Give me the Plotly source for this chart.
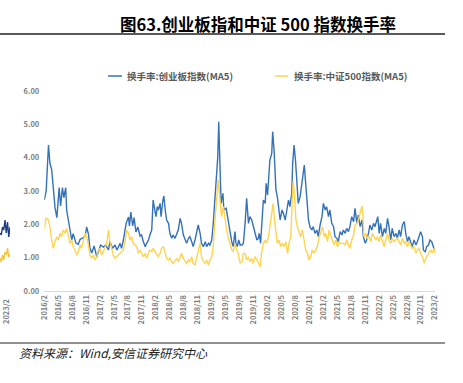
import plotly.graph_objects as go

tick_labels = ["2016/2", "2016/5", "2016/8", "2016/11", "2017/2", "2017/5", "2017/8", "2017/11",
               "2018/2", "2018/5", "2018/8", "2018/11", "2019/2", "2019/5", "2019/8", "2019/11",
               "2020/2", "2020/5", "2020/8", "2020/11", "2021/2", "2021/5", "2021/8", "2021/11",
               "2022/2", "2022/5", "2022/8", "2022/11", "2023/2"]
tick_months = [3 * i for i in range(len(tick_labels))]  # months since 2016/2

# 换手率:创业板指数(MA5)  (x = months since 2016/2)
gem_month = [0.0, 0.4, 0.9, 1.2, 1.6, 1.9, 2.3, 2.7, 3.2, 3.5, 3.9, 4.2, 4.6, 4.8, 5.2, 5.5, 5.9, 6.2, 6.8, 7.3,
             7.7, 8.3, 8.8, 9.1, 9.5, 9.8, 10.2, 10.7, 11.3, 11.6, 12.1, 12.7, 13.2, 13.8, 14.1, 14.7, 15.2, 15.6,
             16.3, 16.6, 17.0, 17.6, 18.1, 18.3, 18.6, 19.0, 19.3, 19.7, 20.1, 20.6, 20.9, 21.3, 21.7, 22.0, 22.4,
             22.7, 23.1, 23.4, 23.7, 24.0, 24.3, 24.5, 24.9, 25.1, 25.5, 25.7, 26.0, 26.3, 26.7, 27.0, 27.4, 27.7,
             28.1, 28.5, 28.8, 29.2, 29.5, 29.9, 30.3, 30.6, 31.0, 31.3, 31.7, 32.0, 32.4, 32.8, 33.1, 33.5, 33.8,
             34.2, 34.6, 34.9, 35.3, 35.6, 36.0, 36.3, 36.7, 37.1, 37.3, 37.5, 37.8, 38.0, 38.4, 38.6, 39.1, 39.4,
             39.8, 40.1, 40.3, 40.6, 41.0, 41.2, 41.5, 41.8, 42.1, 42.5, 42.8, 43.2, 43.5, 43.9, 44.2, 44.6, 44.9,
             45.3, 45.7, 46.0, 46.2, 46.5, 46.8, 47.1, 47.5, 47.7, 48.0, 48.2, 48.5, 48.9, 49.1, 49.4, 49.6, 49.8,
             50.1, 50.5, 50.7, 51.1, 51.4, 51.8, 52.1, 52.5, 52.8, 53.2, 53.4, 53.7, 54.0, 54.3, 54.6, 55.0, 55.4,
             55.7, 55.9, 56.3, 56.6, 56.8, 57.1, 57.5, 57.8, 58.2, 58.6, 58.9, 59.3, 59.7, 60.0, 60.4, 60.7, 61.1,
             61.4, 61.8, 62.2, 62.5, 62.9, 63.2, 63.6, 64.0, 64.3, 64.7, 65.0, 65.4, 65.7, 66.1, 66.5, 66.8, 67.2,
             67.5, 67.9, 68.3, 68.6, 69.0, 69.3, 69.7, 70.0, 70.4, 70.8, 71.1, 71.5, 71.7, 72.0, 72.3, 72.7, 73.1,
             73.4, 73.8, 74.1, 74.5, 74.8, 75.2, 75.6, 75.9, 76.3, 76.6, 77.0, 77.4, 77.7, 78.1, 78.4, 78.8, 79.1,
             79.5, 79.9, 80.2, 80.6, 80.9, 81.3, 81.5, 81.9, 82.2, 82.6, 82.9, 83.3, 83.7, 84.0]
gem_turnover = [2.73, 3.0, 4.38, 3.84, 3.63, 3.0, 2.5, 2.2, 3.1, 2.55, 3.1, 2.8, 3.1, 2.43, 2.1, 1.83, 1.53, 1.72,
                1.44, 1.40, 1.55, 1.59, 1.65, 1.92, 1.70, 1.29, 1.14, 1.35, 1.02, 1.17, 1.38, 1.32, 1.38, 1.23,
                1.48, 1.28, 1.38, 1.23, 1.43, 1.28, 1.53, 2.03, 2.22, 1.95, 2.37, 1.95, 2.2, 1.77, 1.92, 1.65,
                1.68, 1.48, 1.33, 1.43, 1.53, 1.68, 1.83, 2.73, 2.43, 2.23, 2.53, 2.43, 2.63, 2.23, 2.73, 2.85,
                2.43, 2.13, 2.03, 1.73, 1.58, 1.68, 1.58, 1.73, 1.83, 2.18, 2.03, 1.68, 1.53, 1.43, 1.58, 1.63,
                1.48, 1.33, 1.53, 1.83, 1.98, 1.73, 1.43, 1.33, 1.48, 1.33, 1.43, 1.38, 1.53, 1.98, 2.88, 3.73,
                4.03, 5.08, 3.73, 2.63, 2.93, 2.43, 2.48, 2.23, 1.93, 1.58, 1.48, 1.33, 1.78, 1.43, 1.33, 1.53,
                1.38, 1.38, 1.43, 2.08, 2.78, 2.03, 2.23, 2.13, 1.98, 1.73, 1.53, 1.58, 1.73, 1.43, 2.13, 2.73,
                2.63, 3.23, 2.88, 3.43, 3.93, 4.13, 4.78, 4.23, 3.43, 3.03, 2.83, 2.23, 2.13, 2.43, 2.33, 2.13,
                2.43, 2.73, 2.53, 2.93, 3.83, 4.38, 3.93, 3.13, 2.63, 2.83, 3.23, 3.63, 3.78, 3.03, 2.43, 2.13,
                1.93, 1.83, 1.93, 1.73, 1.83, 1.63, 1.98, 2.23, 2.63, 2.43, 2.53, 2.23, 2.43, 2.03, 1.93, 1.63,
                1.58, 1.48, 1.78, 1.68, 1.83, 1.73, 1.88, 1.78, 1.93, 2.23, 2.08, 2.48, 2.03, 2.28, 1.93, 2.13,
                1.63, 1.43, 1.53, 1.73, 1.98, 1.83, 2.03, 1.93, 2.13, 2.23, 1.73, 2.03, 1.63, 1.88, 1.73, 2.18,
                1.93, 1.53, 1.88, 1.63, 1.73, 1.58, 1.83, 1.63, 1.98, 2.08, 1.73, 1.48, 1.63, 1.48, 1.33, 1.53,
                1.38, 1.48, 1.63, 1.78, 1.63, 1.23, 1.18, 1.33, 1.38, 1.53, 1.48, 1.33, 1.18]

# 换手率:中证500指数(MA5)
csi_month = [0.0, 0.4, 0.9, 1.2, 1.6, 1.9, 2.3, 2.7, 3.0, 3.4, 3.7, 4.1, 4.5, 4.8, 5.2, 5.5, 5.9, 6.2, 6.6, 7.0,
             7.3, 7.7, 8.0, 8.4, 8.8, 9.1, 9.5, 9.8, 10.2, 10.5, 10.9, 11.3, 11.6, 12.0, 12.3, 12.7, 13.1, 13.4,
             13.8, 14.1, 14.5, 14.8, 15.2, 15.6, 16.3, 17.0, 17.4, 17.7, 18.1, 18.4, 18.8, 19.1, 19.9, 20.2, 20.6,
             20.9, 21.3, 21.7, 22.0, 22.4, 22.7, 23.1, 23.4, 23.8, 24.2, 24.5, 24.9, 25.2, 25.6, 26.0, 26.3, 26.7,
             27.0, 27.4, 27.7, 28.5, 28.8, 29.2, 29.5, 29.9, 30.3, 30.6, 31.0, 31.3, 31.7, 32.0, 32.4, 32.8, 33.1,
             33.5, 33.8, 34.2, 34.6, 34.9, 35.3, 35.6, 36.0, 36.3, 36.7, 37.1, 37.4, 37.6, 37.9, 38.1, 38.5, 38.9,
             39.2, 39.6, 39.9, 40.3, 40.6, 41.0, 41.4, 41.7, 42.1, 42.5, 42.8, 43.2, 43.5, 43.9, 44.2, 44.6, 44.9,
             45.3, 45.7, 46.0, 46.4, 46.7, 47.1, 47.5, 47.8, 48.2, 48.5, 48.9, 49.2, 49.5, 49.8, 50.1, 50.5, 50.8,
             51.2, 51.5, 51.9, 52.3, 52.6, 53.0, 53.3, 53.5, 53.8, 54.1, 54.4, 54.8, 55.1, 55.5, 55.8, 56.2, 56.6,
             56.9, 57.3, 57.6, 58.0, 58.4, 58.7, 59.1, 59.4, 59.8, 60.2, 60.5, 60.9, 61.2, 61.6, 61.9, 62.3, 62.7,
             63.0, 63.4, 63.7, 64.3, 64.7, 65.0, 65.4, 65.7, 66.1, 66.5, 66.8, 67.2, 67.5, 67.9, 68.3, 68.5, 68.7,
             69.1, 69.5, 69.8, 70.2, 70.5, 70.9, 71.3, 71.6, 72.0, 72.3, 72.7, 73.1, 73.4, 73.8, 74.1, 74.5, 74.8,
             75.2, 75.6, 75.9, 76.3, 76.6, 77.0, 77.4, 77.7, 78.1, 78.4, 78.8, 79.1, 79.5, 79.9, 80.2, 80.6, 80.9,
             81.3, 81.7, 82.0, 82.4, 82.7, 83.1, 83.4, 83.8, 84.0]
csi_turnover = [1.88, 2.18, 2.13, 1.93, 1.53, 1.28, 1.48, 1.63, 1.53, 1.73, 1.63, 1.83, 1.73, 1.88, 1.63, 1.43,
                1.53, 1.33, 1.23, 1.08, 1.18, 1.38, 1.28, 1.48, 1.73, 1.63, 1.38, 1.08, 0.98, 1.08, 0.93, 1.03,
                1.23, 1.28, 1.08, 1.18, 1.33, 1.43, 1.83, 1.48, 1.28, 1.08, 0.98, 1.03, 1.13, 1.23, 1.53, 1.83,
                1.73, 1.53, 1.63, 1.43, 1.33, 1.13, 1.23, 1.13, 1.03, 1.13, 0.98, 1.13, 1.23, 1.18, 1.28, 1.18,
                1.08, 1.03, 1.13, 1.28, 1.33, 1.13, 0.98, 0.93, 0.98, 0.88, 0.83, 0.98, 0.88, 1.03, 1.13, 0.98,
                0.88, 0.83, 0.93, 0.88, 1.03, 0.83, 0.78, 1.03, 1.28, 1.43, 1.03, 0.88, 0.83, 0.93, 0.78, 0.93,
                1.03, 1.33, 2.13, 2.73, 3.33, 3.03, 2.43, 2.23, 2.53, 2.03, 1.83, 1.58, 1.43, 1.23, 1.18, 1.43,
                1.23, 1.13, 0.83, 0.88, 1.13, 1.13, 0.93, 1.03, 0.88, 0.98, 0.83, 1.03, 0.93, 0.83, 0.73, 1.13,
                1.43, 1.53, 1.43, 1.63, 1.93, 2.23, 2.63, 2.13, 1.73, 1.43, 1.53, 1.33, 1.43, 1.33, 1.48, 1.13,
                1.43, 1.63, 2.73, 3.28, 2.83, 2.13, 1.93, 1.73, 1.63, 1.83, 1.53, 1.23, 1.13, 0.93, 1.03, 1.23,
                1.13, 1.23, 1.33, 1.63, 1.73, 1.93, 1.63, 1.73, 1.48, 1.83, 1.63, 1.53, 1.38, 1.53, 1.33, 1.48,
                1.43, 1.43, 1.38, 1.53, 1.38, 1.28, 1.53, 1.68, 1.98, 2.03, 2.13, 2.33, 2.55, 2.23, 1.63, 1.73,
                1.58, 1.63, 1.48, 1.73, 1.63, 1.53, 1.63, 1.48, 1.68, 1.48, 1.33, 1.53, 1.73, 1.53, 1.43, 1.58,
                1.48, 1.53, 1.58, 1.48, 1.38, 1.58, 1.43, 1.48, 1.33, 1.48, 1.38, 1.28, 1.33, 1.13, 1.23, 1.28,
                1.13, 1.03, 0.83, 0.98, 1.08, 1.13, 1.23, 1.13, 1.28, 1.13]

# cropped fragment of the neighbouring chart at the far left edge
frag_x = [0, 1, 2, 3, 4, 5, 6, 7, 8]
frag_blue = [1.74, 1.68, 1.92, 1.83, 2.13, 1.74, 2.07, 1.62, 1.92]
frag_yellow = [0.99, 0.87, 1.08, 0.93, 1.17, 1.08, 1.29, 1.02, 1.10]
frag_label = "2023/2"

title_text = "图63.创业板指和中证 500 指数换手率"
series_names = ["换手率:创业板指数(MA5)", "换手率:中证500指数(MA5)"]
source_text = "资料来源：Wind,安信证券研究中心"

BLUE = "#3371BA"
YELLOW = "#FFD44F"
FONT = "Noto Sans CJK SC"
GRAY = "#7F7F7F"

W, H = 463, 383
ML, MR, MT, MB = 0, 28, 91, 92
PW = W - ML - MR
PH = H - MT - MB


def px(x):
    return (x - ML) / PW


def py(y):
    return (H - MB - y) / PH


fig = go.Figure()
fig.add_trace(go.Scatter(x=gem_month, y=gem_turnover, mode="lines", name=series_names[0],
                         line=dict(color=BLUE, width=1.4), showlegend=False))
fig.add_trace(go.Scatter(x=csi_month, y=csi_turnover, mode="lines", name=series_names[1],
                         line=dict(color=YELLOW, width=1.4), showlegend=False))
fig.add_trace(go.Scatter(x=frag_x, y=frag_blue, xaxis="x2", yaxis="y", mode="lines",
                         line=dict(color="#203F8A", width=1.4), showlegend=False))
fig.add_trace(go.Scatter(x=frag_x, y=frag_yellow, xaxis="x2", yaxis="y", mode="lines",
                         line=dict(color="#F5C342", width=1.4), showlegend=False))

tick_font = dict(size=7.5, color=GRAY, family=FONT, weight="bold")
fig.update_layout(
    width=W, height=H,
    margin=dict(l=ML, r=MR, t=MT, b=MB, autoexpand=False),
    paper_bgcolor="white", plot_bgcolor="white",
    font=dict(family=FONT, color=GRAY),
    xaxis=dict(domain=[px(44.3), 1], range=[0, 84], tickvals=tick_months, ticktext=tick_labels,
               tickangle=-90, tickfont=tick_font, automargin=False,
               showgrid=False, zeroline=False, showline=True, linecolor="#D9D9D9", linewidth=1,
               ticks=""),
    xaxis2=dict(domain=[0, px(10)], range=[0, 8], anchor="y", showticklabels=False, automargin=False,
                showgrid=False, zeroline=False, showline=False, ticks=""),
    yaxis=dict(range=[0, 6], tickvals=[0, 1, 2, 3, 4, 5, 6], tickformat=".2f",
               tickfont=tick_font, automargin=False,
               showgrid=False, zeroline=False, showline=False, ticks="", anchor="x",
               ticklabelstandoff=4),
)

# fragment's date label
fig.add_annotation(x=px(5), y=py(296), xref="paper", yref="paper", text=frag_label, showarrow=False,
                   textangle=-90, xanchor="center", yanchor="top", font=tick_font)

# title and rules
fig.add_annotation(x=px(258), y=py(24), xref="paper", yref="paper", text=title_text, showarrow=False,
                   xanchor="center", yanchor="middle",
                   font=dict(size=16.5, color="#000000", family=FONT, weight="bold"))
fig.add_shape(type="line", xref="paper", yref="paper", x0=px(0), x1=px(445), y0=py(34), y1=py(34),
              line=dict(color="#222222", width=1.5))
fig.add_shape(type="line", xref="paper", yref="paper", x0=px(0), x1=px(445), y0=py(343), y1=py(343),
              line=dict(color="#222222", width=1.2))

# legend
for (lx0, lx1, tx, col, name) in [(108, 122, 125, BLUE, series_names[0]), (275, 288, 292, YELLOW, series_names[1])]:
    fig.add_shape(type="line", xref="paper", yref="paper", x0=px(lx0), x1=px(lx1), y0=py(76), y1=py(76),
                  line=dict(color=col, width=1.5))
    fig.add_annotation(x=px(tx), y=py(76), xref="paper", yref="paper", text=name, showarrow=False,
                       xanchor="left", yanchor="middle",
                       font=dict(size=9.5, color="#595959", family=FONT, weight="bold"))

# source
fig.add_annotation(x=px(17), y=py(352), xref="paper", yref="paper", text=source_text, showarrow=False,
                   xanchor="left", yanchor="middle",
                   font=dict(size=12, color="#222222", family=FONT, style="italic"))

fig.write_html("out.html", config={"displayModeBar": False},
               post_script="document.body.style.margin='0';")
